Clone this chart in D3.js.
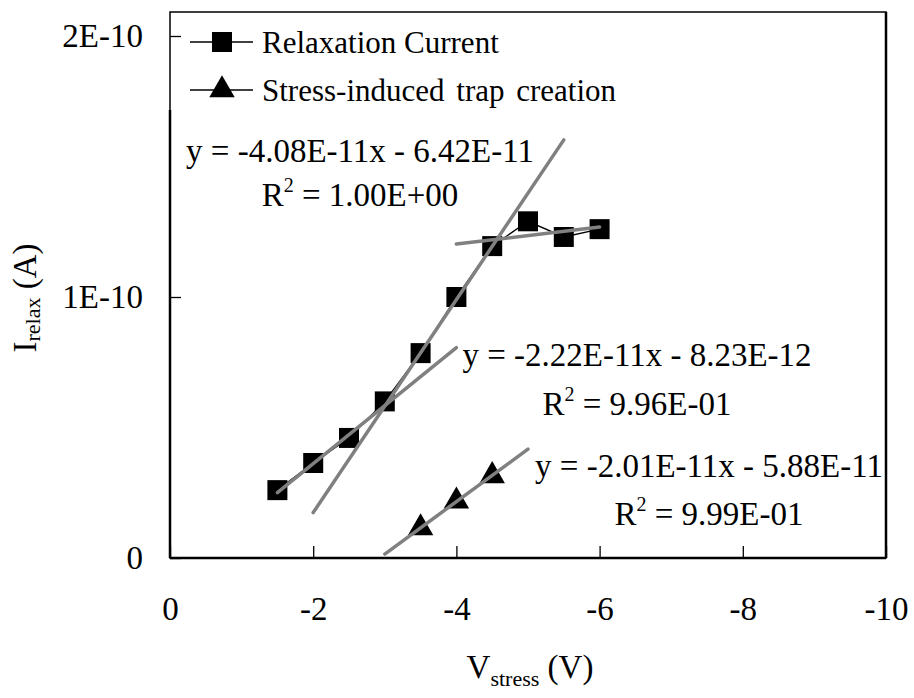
<!DOCTYPE html>
<html>
<head>
<meta charset="utf-8">
<script src="https://cdn.jsdelivr.net/npm/d3@7"></script>
<style>
  body { margin: 0; background: #fff; }
  text { font-family: "Liberation Serif", "Times New Roman", serif; fill: #000; }
</style>
</head>
<body>
<div id="chart"></div>
<script>
// relaxation current vs stress voltage
const relaxV = [-1.5, -2, -2.5, -3, -3.5, -4, -4.5, -5, -5.5, -6];
const relaxI = [2.6e-11, 3.64e-11, 4.6e-11, 6.0e-11, 7.85e-11, 1.0e-10, 1.195e-10, 1.29e-10, 1.23e-10, 1.26e-10];
const trapV = [-3.5, -4, -4.5];
const trapI = [1.15e-11, 2.18e-11, 3.15e-11];

const seriesNames = ['Relaxation Current', 'Stress-induced trap creation'];
const xTicks = [0, -2, -4, -6, -8, -10];
const yTicks = [0, 1e-10, 2e-10];
const yTickLabels = ['0', '1E-10', '2E-10'];

// linear trendlines (slope, intercept, x range), last one has no label
const trendSlope = [-4.08e-11, -2.22e-11, -2.01e-11, -3.25e-12];
const trendIntercept = [-6.42e-11, -8.23e-12, -5.88e-11, 1.073e-10];
const trendFrom = [-2, -1.5, -3, -4];
const trendTo = [-5.5, -4, -5, -6];
const trendEq = ['y = -4.08E-11x - 6.42E-11', 'y = -2.22E-11x - 8.23E-12', 'y = -2.01E-11x - 5.88E-11'];
const trendR2 = ['1.00E+00', '9.96E-01', '9.99E-01'];

const width = 914, height = 698;
const plot = { left: 170, right: 886, top: 12, bottom: 558 };

const svg = d3.select('#chart').append('svg')
  .attr('width', width)
  .attr('height', height);

const x = d3.scaleLinear().domain([0, -10]).range([plot.left, plot.right]);
const y = d3.scaleLinear().domain([0, 2e-10]).range([plot.bottom, 36]);

// frame
svg.append('rect')
  .attr('x', plot.left).attr('y', plot.top)
  .attr('width', plot.right - plot.left).attr('height', plot.bottom - plot.top)
  .attr('fill', 'none').attr('stroke', '#000').attr('stroke-width', 1.5);

const xAxis = d3.axisBottom(x).tickValues(xTicks).tickSize(-12).tickPadding(39)
  .tickFormat(d => String(d));
const yAxis = d3.axisLeft(y).tickValues(yTicks).tickSize(-11).tickPadding(27)
  .tickFormat((d, i) => yTickLabels[i]);

const gx = svg.append('g')
  .attr('transform', 'translate(0,' + plot.bottom + ')')
  .call(xAxis);
const gy = svg.append('g')
  .attr('transform', 'translate(' + plot.left + ',0)')
  .call(yAxis);

[gx, gy].forEach(g => {
  g.select('.domain').remove();
  g.selectAll('.tick line').attr('stroke', '#000').attr('stroke-width', 1.3);
  g.selectAll('.tick text')
    .attr('font-family', '"Liberation Serif", serif')
    .attr('font-size', 33)
    .attr('fill', '#000');
});

// heavier axis lines
svg.append('line')
  .attr('x1', plot.left).attr('x2', plot.right)
  .attr('y1', plot.bottom).attr('y2', plot.bottom)
  .attr('stroke', '#000').attr('stroke-width', 2.5);
svg.append('line')
  .attr('x1', plot.left).attr('x2', plot.left)
  .attr('y1', 110).attr('y2', plot.bottom)
  .attr('stroke', '#000').attr('stroke-width', 2.5);
svg.append('line')
  .attr('x1', plot.right).attr('x2', plot.right)
  .attr('y1', plot.top).attr('y2', plot.bottom)
  .attr('stroke', '#000').attr('stroke-width', 2.5);

const line = d3.line().x(d => x(d[0])).y(d => y(d[1]));
const square = d3.symbol().type(d3.symbolSquare).size(400);
const triangle = d3.symbol().type(d3.symbolTriangle).size(280);

const relaxPts = relaxV.map((v, i) => [v, relaxI[i]]);
const trapPts = trapV.map((v, i) => [v, trapI[i]]);

svg.append('path').datum(relaxPts)
  .attr('d', line).attr('fill', 'none').attr('stroke', '#000').attr('stroke-width', 1.3);
svg.append('path').datum(trapPts)
  .attr('d', line).attr('fill', 'none').attr('stroke', '#000').attr('stroke-width', 1.3);

svg.selectAll('.sq')
  .data(relaxPts)
  .enter().append('path')
  .attr('class', 'sq')
  .attr('d', square)
  .attr('transform', d => 'translate(' + x(d[0]) + ',' + y(d[1]) + ')')
  .attr('fill', '#000');

svg.selectAll('.tri')
  .data(trapPts)
  .enter().append('path')
  .attr('class', 'tri')
  .attr('d', triangle)
  .attr('transform', d => 'translate(' + x(d[0]) + ',' + y(d[1]) + ')')
  .attr('fill', '#000');

// trendlines on top of the markers
svg.selectAll('.trend')
  .data(trendSlope)
  .enter().append('path')
  .attr('class', 'trend')
  .attr('d', (m, i) => line([
    [trendFrom[i], m * trendFrom[i] + trendIntercept[i]],
    [trendTo[i], m * trendTo[i] + trendIntercept[i]]
  ]))
  .attr('stroke', '#808080')
  .attr('stroke-width', 3.5)
  .attr('stroke-linecap', 'round');

// trendline labels
const labelCx = [360, 637, 709];
const labelY = [162, 366, 477];
const labelGap = [44, 49, 48];
trendEq.forEach((eq, i) => {
  svg.append('text')
    .attr('x', labelCx[i]).attr('y', labelY[i])
    .attr('text-anchor', 'middle')
    .attr('font-size', 33)
    .text(eq);
  const r = svg.append('text')
    .attr('x', labelCx[i]).attr('y', labelY[i] + labelGap[i])
    .attr('text-anchor', 'middle')
    .attr('font-size', 33);
  r.append('tspan').text('R');
  r.append('tspan').attr('font-size', 20).attr('dy', -14).text('2');
  r.append('tspan').attr('dy', 14).text(' = ' + trendR2[i]);
});

// legend
const legendY = [42, 90];
seriesNames.forEach((name, i) => {
  svg.append('line')
    .attr('x1', 190).attr('x2', 253)
    .attr('y1', legendY[i]).attr('y2', legendY[i])
    .attr('stroke', '#000').attr('stroke-width', 1.5);
  svg.append('path')
    .attr('d', i === 0 ? square : triangle)
    .attr('transform', 'translate(222,' + legendY[i] + ')')
    .attr('fill', '#000');
  svg.append('text')
    .attr('x', 262).attr('y', legendY[i] + 11)
    .attr('font-size', 31)
    .attr('word-spacing', i === 1 ? 4 : 0)
    .text(name);
});

// axis titles
const yt = svg.append('text')
  .attr('transform', 'translate(36,298) rotate(-90)')
  .attr('text-anchor', 'middle')
  .attr('font-size', 33);
yt.append('tspan').text('I');
yt.append('tspan').attr('font-size', 22).attr('dy', 4).text('relax');
yt.append('tspan').attr('dy', -4).text(' (A)');

const xt = svg.append('text')
  .attr('x', 530).attr('y', 678)
  .attr('text-anchor', 'middle')
  .attr('font-size', 33);
xt.append('tspan').text('V');
xt.append('tspan').attr('font-size', 22).attr('dy', 8).text('stress');
xt.append('tspan').attr('dy', -8).text(' (V)');
</script>
</body>
</html>
